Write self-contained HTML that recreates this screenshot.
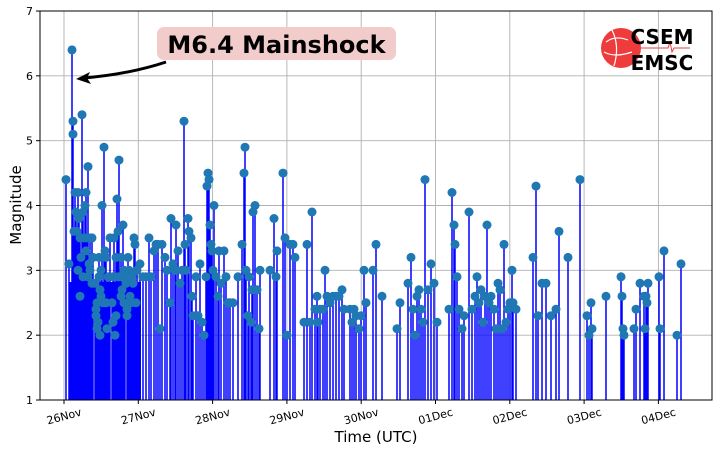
<!DOCTYPE html>
<html><head><meta charset="utf-8"><style>
html,body{margin:0;padding:0;background:#fff;}
svg text{font-family:"DejaVu Sans","Liberation Sans",sans-serif;}
</style></head><body>
<svg id="s" width="721" height="451" viewBox="0 0 721 451" xmlns="http://www.w3.org/2000/svg">
<rect width="721" height="451" fill="#fff"/>
<g id="grid" stroke="#b0b0b0" stroke-width="0.9"></g>
<rect x="69" y="282" width="72" height="118" fill="#0000ff"/>
<g id="stems" stroke="#0000ff" stroke-width="1.5"></g>
<g stroke="#fff" stroke-width="0.8" opacity="0.7">
<line x1="94" y1="300" x2="94" y2="400"/><line x1="111" y1="300" x2="111" y2="400"/><line x1="126" y1="300" x2="126" y2="400"/>
</g>
<g id="dots" fill="#1f77b4"></g>
<rect x="40" y="11" width="672" height="389" fill="none" stroke="#000" stroke-width="1"/>
<g id="ticks" font-size="11" fill="#000"></g>
<text x="21" y="205" font-size="15" text-anchor="middle" transform="rotate(-90 21 205)">Magnitude</text>
<text x="376" y="442" font-size="15" text-anchor="middle">Time (UTC)</text>
<!-- annotation -->
<path d="M166,62 Q130,74 84,78" fill="none" stroke="#000" stroke-width="3"/>
<path d="M76,79 L90,72 L87,78 L91,84 Z" fill="#000"/>
<rect x="157" y="27" width="239" height="33" rx="7" fill="#f2cbcb"/>
<text x="276.5" y="53" font-size="24" font-weight="bold" text-anchor="middle">M6.4 Mainshock</text>
<!-- logo -->
<circle cx="621" cy="48" r="20" fill="#ee3b3b"/>
<path d="M606,42 Q615,35 628,40 M604,52 Q615,58 632,52 M612,30 Q620,46 614,66" stroke="#fff" stroke-width="1.2" fill="none"/>
<path d="M632,48 H668 L670,42 L672,52 L674,48 H690" stroke="#ee3b3b" stroke-width="1" fill="none"/>
<text x="662" y="44" font-size="20" font-weight="bold" text-anchor="middle">CSEM</text>
<text x="662" y="70" font-size="20" font-weight="bold" text-anchor="middle">EMSC</text>
</svg>
<script>
var NS="http://www.w3.org/2000/svg";
function el(p,t,a){var e=document.createElementNS(NS,t);for(var k in a)e.setAttribute(k,a[k]);document.getElementById(p).appendChild(e);return e;}
function Y(m){return 400-(m-1)*64.83;}
var days=["26Nov","27Nov","28Nov","29Nov","30Nov","01Dec","02Dec","03Dec","04Dec"];
for(var i=0;i<9;i++){var x=64+i*74.3;
el("grid","line",{x1:x,y1:11,x2:x,y2:400});
el("ticks","line",{x1:x,y1:400,x2:x,y2:404,stroke:"#000"});
var t=el("ticks","text",{x:x,y:420,"text-anchor":"middle",transform:"rotate(-15 "+x+" 416)"});t.textContent=days[i];}
for(var m=1;m<=7;m++){var y=Y(m);
if(m>1&&m<7)el("grid","line",{x1:40,y1:y,x2:712,y2:y});
el("ticks","line",{x1:36,y1:y,x2:40,y2:y,stroke:"#000"});
var t=el("ticks","text",{x:33,y:y+4,"text-anchor":"end"});t.textContent=m;}
var d=[66,4.4,69,3.1,72,6.4,73,5.3,73,5.1,74,3.6,75,4.2,76,3.9,77,3.6,78,4.2,79,3.8,80,3.5,81,3.2,82,5.4,83,3.9,84,3.5,85,4.0,86,4.2,86,3.3,87,3.5,88,4.6,88,2.9,89,3.1,90,3.5,92,3.5,93,3.2,95,2.8,96,2.4,97,2.1,98,2.2,99,3.2,100,2.0,101,2.6,102,4.0,103,2.5,104,4.9,105,3.3,106,3.2,108,2.9,110,3.5,112,2.5,113,2.9,114,3.5,116,3.2,117,4.1,118,3.6,119,4.7,120,2.9,121,3.2,122,2.7,123,3.7,124,2.5,125,2.9,126,2.8,127,2.3,128,3.2,129,3.0,130,2.6,131,2.5,132,2.9,133,2.8,134,3.5,135,3.4,136,2.5,137,3.0,140,3.1,143,2.9,146,2.9,149,3.5,151,2.9,154,3.3,156,3.4,158,3.4,160,2.1,162,3.4,165,3.2,167,3.0,170,2.5,171,3.8,173,3.1,175,3.0,176,3.7,178,3.3,180,2.8,182,3.0,184,5.3,185,3.4,186,3.0,188,3.8,189,3.6,191,3.5,192,2.6,193,2.3,196,2.9,198,2.3,200,3.1,202,2.2,204,2.0,206,2.9,207,4.3,208,4.5,209,4.4,210,3.7,211,3.4,212,3.3,213,3.0,214,4.0,216,2.9,218,2.6,219,3.3,221,2.8,224,3.3,226,2.9,228,2.5,230,2.5,233,2.5,238,2.9,242,3.4,244,4.5,245,4.9,246,3.0,248,2.3,249,2.9,251,2.2,252,2.7,253,3.9,255,4.0,257,2.7,259,2.1,260,3.0,270,3.0,274,3.8,276,2.9,277,3.3,283,4.5,285,3.5,287,2.0,290,3.4,293,3.4,295,3.2,304,2.2,307,3.4,310,2.2,312,3.9,315,2.4,317,2.6,318,2.2,320,2.4,323,2.4,325,3.0,327,2.6,330,2.5,333,2.6,336,2.6,339,2.6,342,2.7,344,2.4,350,2.4,352,2.2,354,2.4,356,2.3,359,2.1,361,2.3,364,3.0,366,2.5,373,3.0,376,3.4,382,2.6,397,2.1,400,2.5,408,2.8,411,3.2,413,2.4,415,2.0,417,2.6,419,2.7,421,2.4,423,2.2,425,4.4,428,2.7,431,3.1,434,2.8,437,2.2,449,2.4,452,4.2,454,3.7,455,3.4,457,2.9,459,2.4,462,2.1,464,2.3,469,3.9,472,2.4,475,2.6,477,2.9,479,2.5,481,2.7,483,2.2,485,2.6,487,3.7,489,2.5,491,2.6,494,2.4,496,2.1,498,2.8,500,2.7,502,2.1,504,3.4,506,2.2,508,2.4,510,2.5,512,3.0,513,2.5,516,2.4,533,3.2,536,4.3,538,2.3,542,2.8,546,2.8,551,2.3,556,2.4,559,3.6,568,3.2,580,4.4,587,2.3,589,2.0,591,2.5,592,2.1,606,2.6,621,2.9,622,2.6,623,2.1,624,2.0,634,2.1,636,2.4,640,2.8,644,2.6,645,2.1,646,2.6,647,2.5,648,2.8,659,2.9,660,2.1,664,3.3,677,2.0,681,3.1,
96,2.3,97,2.5,99,2.9,100,2.7,106,2.5,107,2.1,113,2.2,115,2.0,116,2.3,118,2.9,121,2.6,124,3.0,127,2.4,130,2.9,78,3.0,80,2.6,83,2.9,90,3.0,92,2.8,101,3.0];
var p="";
for(var i=0;i<d.length;i+=2){p+="M"+d[i]+",400V"+Y(d[i+1]).toFixed(1);}
el("stems","path",{d:p,fill:"none"});
for(var i=0;i<d.length;i+=2){el("dots","circle",{cx:d[i],cy:Y(d[i+1]).toFixed(1),r:4.5});}
</script>
</body></html>
